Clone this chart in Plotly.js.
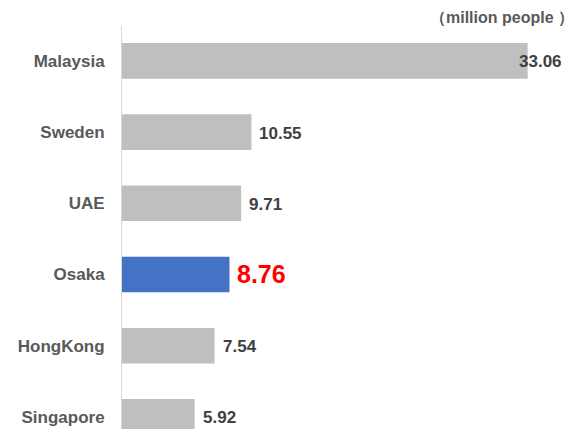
<!DOCTYPE html>
<html>
<head>
<meta charset="utf-8">
<script src="https://cdn.plot.ly/plotly-3.0.1.min.js"></script>
<style>html,body{margin:0;padding:0;background:#fff;}#chart{width:576px;height:429px;}</style>
</head>
<body>
<div id="chart"></div>
<script>
const categories = ["Malaysia", "Sweden", "UAE", "Osaka", "HongKong", "Singapore"];
const values = [33.06, 10.55, 9.71, 8.76, 7.54, 5.92];
const labels = ["33.06", "10.55", "9.71", "8.76", "7.54", "5.92"];
const highlight = "Osaka";
const unitText = "\uFF08million people \uFF09";

const barColors = categories.map(c => c === highlight ? "#4472c4" : "#bfbfbf");
const FONT = "Liberation Sans, Arial, sans-serif";

const annotations = categories.map((c, i) => ({
  x: values[i], y: c, xref: "x", yref: "y",
  text: labels[i], showarrow: false, xanchor: "left", yanchor: "middle",
  xshift: i === 0 ? -11 : 6,
  yshift: c === highlight ? 0 : -1,
  font: c === highlight
    ? {family: FONT, size: 25, color: "#ff0000", weight: "bold"}
    : {family: FONT, size: 17, color: "#404040", weight: "bold"}
}));
annotations.push({
  x: 1, y: 1, xref: "paper", yref: "paper", xanchor: "right", yanchor: "bottom",
  xshift: 0, yshift: -3,
  text: unitText, showarrow: false,
  font: {family: FONT, size: 16, color: "#595959", weight: "bold"}
});

Plotly.newPlot("chart", [{
  type: "bar", orientation: "h",
  x: values, y: categories,
  marker: {color: barColors, line: {width: 0}},
  width: 0.5,
  hoverinfo: "none"
}], {
  width: 576, height: 429,
  margin: {l: 122, r: 0, t: 26, b: 0, pad: 0},
  paper_bgcolor: "#ffffff", plot_bgcolor: "#ffffff",
  showlegend: false,
  xaxis: {range: [0, 37], visible: false, showgrid: false, zeroline: false},
  yaxis: {
    type: "category", range: [5.17, -0.49],
    showline: true, linecolor: "#d9d9d9", linewidth: 1,
    showgrid: false, zeroline: false,
    ticks: "outside", ticklen: 13, tickcolor: "rgba(0,0,0,0)",
    tickfont: {family: FONT, size: 17, color: "#595959", weight: "bold"}
  },
  annotations: annotations
}, {staticPlot: true});
</script>
</body>
</html>
